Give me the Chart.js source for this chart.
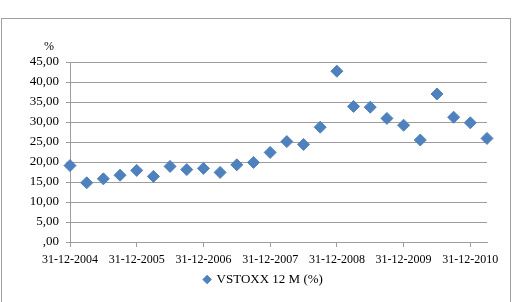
<!DOCTYPE html>
<html>
<head>
<meta charset="utf-8">
<script src="https://cdn.jsdelivr.net/npm/chart.js@4"></script>
<style>
  html, body { margin: 0; padding: 0; background: #fff; }
  #wrap { position: relative; width: 513px; height: 302px; overflow: hidden; }
  #frame { position: absolute; left: 1px; top: 18px; width: 508px; height: 300px; border: 1px solid #a0a0a0; }
  #chartScatter { position: absolute; left: 0; top: 0; }
</style>
</head>
<body>
<div id="wrap">
  <div id="frame"></div>
  <canvas id="chartScatter" width="513" height="302"></canvas>
</div>
<script>
// quarter-end dates, 31-12-2004 .. 31-03-2011
const quarters = [
    "31-12-2004", "31-03-2005", "30-06-2005", "30-09-2005",
    "31-12-2005", "31-03-2006", "30-06-2006", "30-09-2006",
    "31-12-2006", "31-03-2007", "30-06-2007", "30-09-2007",
    "31-12-2007", "31-03-2008", "30-06-2008", "30-09-2008",
    "31-12-2008", "31-03-2009", "30-06-2009", "30-09-2009",
    "31-12-2009", "31-03-2010", "30-06-2010", "30-09-2010",
    "31-12-2010", "31-03-2011",
];
const vstoxx = [
    19.1, 14.8, 15.8, 16.7, 17.9, 16.4, 18.9, 18.1, 18.4, 17.4,
    19.3, 19.9, 22.4, 25.1, 24.4, 28.7, 42.7, 33.9, 33.7, 30.9,
    29.2, 25.5, 37.0, 31.2, 29.8, 25.9,
];
const tickLabels = ["31-12-2004", "31-12-2005", "31-12-2006", "31-12-2007", "31-12-2008", "31-12-2009", "31-12-2010"];

const font = { family: "'Liberation Serif', 'Times New Roman', serif", size: 12 };
const grey = "#9d9d9d";

const unitLabel = {
    id: "unitLabel",
    afterDraw(chart) {
        const { ctx, chartArea } = chart;
        ctx.save();
        ctx.font = "12px " + font.family;
        ctx.fillStyle = "#000";
        ctx.textAlign = "center";
        ctx.textBaseline = "middle";
        ctx.fillText("%", chartArea.left - 21, chartArea.top - 15);
        ctx.restore();
    },
};

// legend sits centred under the plot area, not the whole canvas
const legendShift = {
    id: "legendShift",
    afterLayout(chart) {
        const lg = chart.legend;
        const dx = (chart.chartArea.left + chart.chartArea.right) / 2 - (lg.left + lg.right) / 2 - 15;
        lg.left += dx;
        lg.right += dx;
    },
};

const data = {
    datasets: [
        {
            label: "VSTOXX 12 M (%)",
            data: vstoxx.map((v, i) => ({ x: i, y: v })),
            backgroundColor: "#4F81BD",
            borderColor: "#4F81BD",
            pointStyle: "rectRot",
            pointRadius: 6,
            pointHoverRadius: 6,
            borderWidth: 1,
            clip: false,
        },
    ],
};

const config = {
    type: "scatter",
    data: data,
    options: {
        responsive: false,
        animation: false,
        layout: { padding: { top: 62, left: 0, right: 26, bottom: 6 } },
        scales: {
            x: {
                type: "linear",
                min: 0,
                max: quarters.length - 1,
                afterBuildTicks: (axis) => {
                    axis.ticks = tickLabels.map((t) => ({ value: quarters.indexOf(t) }));
                },
                afterFit: (axis) => { axis.height = 23; },
                grid: { drawOnChartArea: false, drawTicks: true, tickLength: 5, color: grey },
                border: { color: grey },
                ticks: {
                    font: font,
                    color: "#000",
                    padding: 6,
                    maxRotation: 0,
                    autoSkip: false,
                    callback: (v) => quarters[v],
                },
            },
            y: {
                min: 0,
                max: 45,
                afterFit: (axis) => { axis.width = 70; },
                grid: { color: grey, tickLength: 4 },
                border: { color: grey },
                ticks: {
                    stepSize: 5,
                    font: { family: font.family, size: 13 },
                    color: "#000",
                    padding: 7,
                    callback: (v) => (v === 0 ? ",00" : v.toFixed(2).replace(".", ",")),
                },
            },
        },
        plugins: {
            legend: {
                position: "bottom",
                labels: {
                    usePointStyle: true,
                    boxWidth: 6,
                    boxHeight: 6,
                    padding: 8,
                    color: "#000",
                    font: { family: font.family, size: 13 },
                },
            },
            tooltip: { enabled: false },
        },
    },
    plugins: [unitLabel, legendShift],
};

new Chart(document.getElementById("chartScatter"), config);
</script>
</body>
</html>
